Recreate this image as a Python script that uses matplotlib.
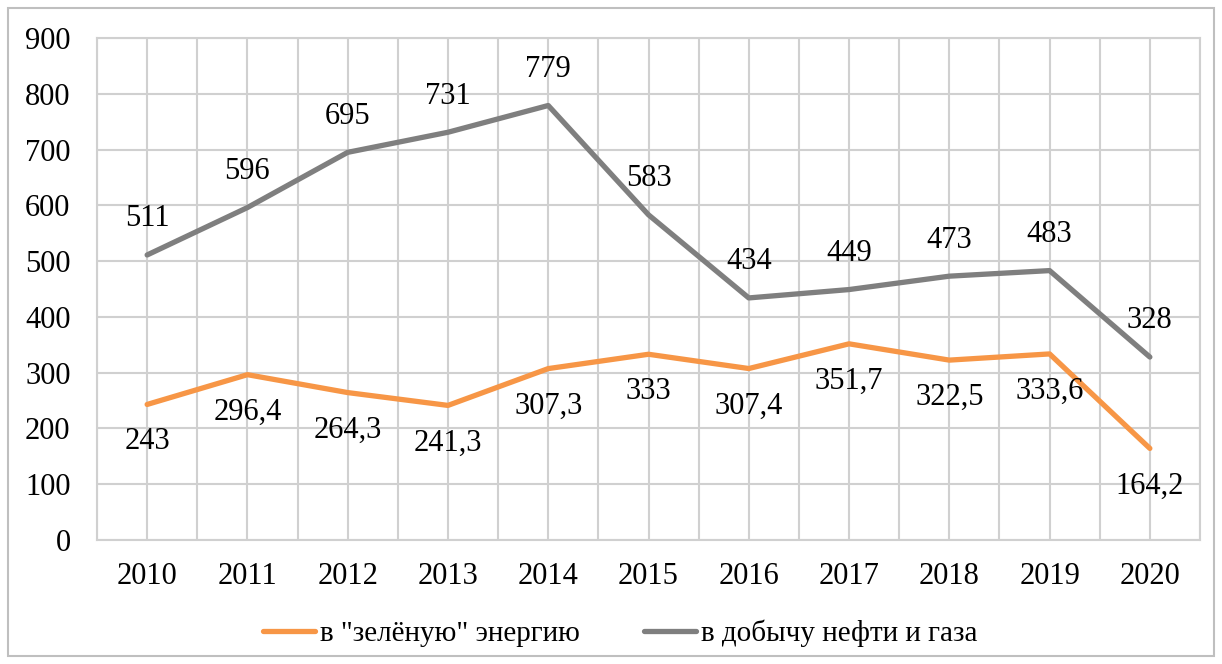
import matplotlib.pyplot as plt
from matplotlib.patches import Rectangle

# Data
years = [2010, 2011, 2012, 2013, 2014, 2015, 2016, 2017, 2018, 2019, 2020]
green = [243, 296.4, 264.3, 241.3, 307.3, 333, 307.4, 351.7, 322.5, 333.6, 164.2]
oil_gas = [511, 596, 695, 731, 779, 583, 434, 449, 473, 483, 328]
green_labels = ["243", "296,4", "264,3", "241,3", "307,3", "333", "307,4",
                "351,7", "322,5", "333,6", "164,2"]
oil_labels = [str(v) for v in oil_gas]

plt.rcParams['font.family'] = ['Liberation Serif', 'DejaVu Serif']

fig = plt.figure(figsize=(12.22, 6.64), dpi=100)
ax = fig.add_axes([97 / 1222, 1 - 540 / 664, (1200 - 97) / 1222, (540 - 38) / 664])

# outer frame
fig.patches.append(Rectangle((8 / 1222, 8 / 664), 1206 / 1222, 648 / 664,
                             transform=fig.transFigure, fill=False,
                             edgecolor='#BFBFBF', linewidth=1.5))

orange = '#F79646'
gray = '#7F7F7F'

ax.plot(years, green, color=orange, linewidth=3.8, solid_capstyle='round',
        label='в "зелёную" энергию', zorder=3)
ax.plot(years, oil_gas, color=gray, linewidth=3.8, solid_capstyle='round',
        label='в добычу нефти и газа', zorder=3)

for x, y, t in zip(years, green, green_labels):
    ax.annotate(t, (x, y), xytext=(0, -27), textcoords='offset points',
                ha='center', va='center', fontsize=22)
for x, y, t in zip(years, oil_gas, oil_labels):
    ax.annotate(t, (x, y), xytext=(0, 26), textcoords='offset points',
                ha='center', va='center', fontsize=22)

ax.set_xlim(2009.5, 2020.5)
ax.set_ylim(0, 900)
ax.set_yticks(range(0, 1000, 100))
ax.set_xticks(years)
ax.set_xticks([y + 0.5 for y in [2009] + years], minor=True)
ax.tick_params(axis='both', which='both', length=0, labelsize=22)
ax.tick_params(axis='y', pad=19)
ax.tick_params(axis='x', pad=16)
ax.grid(True, which='both', axis='x', color='#D0D0D0', linewidth=1.5)
ax.grid(True, which='major', axis='y', color='#D0D0D0', linewidth=1.5)
ax.set_axisbelow(True)
for s in ax.spines.values():
    s.set_color('#D0D0D0')
    s.set_linewidth(1.5)

fig.legend(loc='center', bbox_to_anchor=(620 / 1222, 1 - 633 / 664), ncol=2,
           frameon=False, fontsize=21, handlelength=1.8, columnspacing=2.2,
           handletextpad=0.15)

plt.savefig('out.png', dpi=100)
